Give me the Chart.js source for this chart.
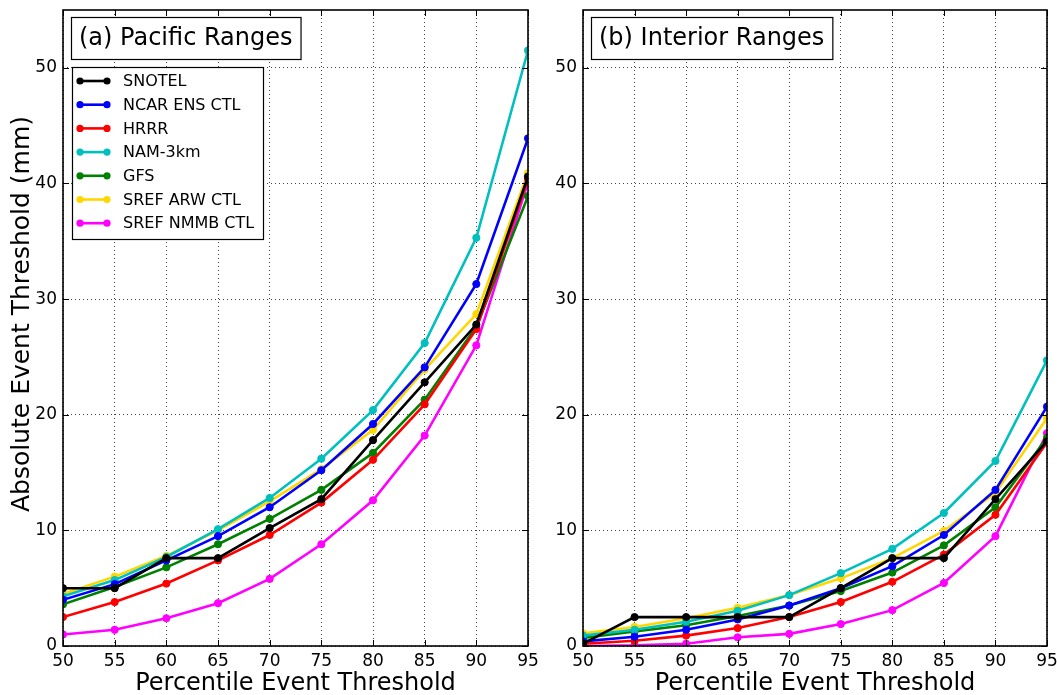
<!DOCTYPE html>
<html><head><meta charset="utf-8">
<script src="https://cdn.jsdelivr.net/npm/chart.js@4/dist/chart.umd.min.js"></script>
<style>
html,body{margin:0;padding:0;background:#fff;width:1057px;height:695px;overflow:hidden}
canvas{position:absolute;top:0}
#c1{left:0}#c2{left:540px}
</style></head>
<body>
<canvas id="c1" width="540" height="695"></canvas>
<canvas id="c2" width="517" height="695"></canvas>
<script>
const percentiles = [50, 55, 60, 65, 70, 75, 80, 85, 90, 95];
const seriesNames = ['SNOTEL', 'NCAR ENS CTL', 'HRRR', 'NAM-3km', 'GFS', 'SREF ARW CTL', 'SREF NMMB CTL'];
const seriesColors = ['#000000', '#0000ff', '#ff0000', '#00bfbf', '#008000', '#ffd700', '#ff00ff'];
const yTickValues = [0, 10, 20, 30, 40, 50];

// (a) Pacific Ranges
const pacSNOTEL = [5.0, 5.0, 7.6, 7.6, 10.2, 12.7, 17.8, 22.8, 27.8, 40.6];
const pacNCAR   = [4.0, 5.35, 7.4, 9.5, 12.0, 15.2, 19.2, 24.1, 31.3, 43.9];
const pacHRRR   = [2.5, 3.8, 5.4, 7.4, 9.6, 12.4, 16.1, 20.9, 27.4, 40.4];
const pacNAM    = [4.3, 5.7, 7.7, 10.1, 12.8, 16.2, 20.4, 26.2, 35.3, 51.5];
const pacGFS    = [3.6, 5.1, 6.8, 8.8, 11.0, 13.5, 16.7, 21.3, 27.6, 38.9];
const pacARW    = [4.5, 6.0, 7.8, 10.0, 12.5, 15.3, 18.7, 23.9, 28.7, 40.9];
const pacNMMB   = [1.0, 1.4, 2.4, 3.7, 5.8, 8.8, 12.6, 18.2, 26.0, 40.1];

// (b) Interior Ranges
const intSNOTEL = [0.2, 2.5, 2.5, 2.5, 2.5, 5.0, 7.6, 7.6, 12.7, 17.7];
const intNCAR   = [0.4, 0.8, 1.4, 2.3, 3.5, 5.0, 6.9, 9.6, 13.5, 20.7];
const intHRRR   = [0.2, 0.45, 0.9, 1.55, 2.5, 3.8, 5.55, 7.9, 11.35, 17.6];
const intNAM    = [0.9, 1.4, 2.1, 3.05, 4.4, 6.3, 8.4, 11.5, 16.0, 24.7];
const intGFS    = [0.7, 1.25, 1.8, 2.6, 3.5, 4.75, 6.35, 8.7, 12.0, 18.0];
const intARW    = [1.1, 1.65, 2.4, 3.3, 4.4, 5.85, 7.6, 9.95, 13.25, 19.7];
const intNMMB   = [0.0, 0.05, 0.2, 0.75, 1.05, 1.9, 3.1, 5.45, 9.5, 18.4];

const FONT = "'DejaVu Sans', 'Liberation Sans', sans-serif";
const Y_TITLE = 'Absolute Event Threshold (mm)';

function makeDatasets(seriesList) {
  return seriesList.map((vals, i) => ({
    label: seriesNames[i],
    data: percentiles.map((p, j) => ({x: p, y: vals[j]})),
    borderColor: seriesColors[i],
    backgroundColor: seriesColors[i],
    pointBackgroundColor: seriesColors[i],
    pointBorderColor: seriesColors[i],
    borderWidth: 2.6,
    pointRadius: 3.6,
    pointBorderWidth: 1,
    tension: 0,
    fill: false
  }));
}

const frameTicks = {
  id: 'frameTicks',
  afterDatasetsDraw(chart) {
    const {ctx, chartArea: a, scales: {x, y}} = chart;
    ctx.save();
    ctx.strokeStyle = '#000';
    ctx.lineWidth = 1;
    const L = 6;
    ctx.beginPath();
    x.ticks.forEach(t => {
      const px = Math.round(x.getPixelForValue(t.value)) + 0.5;
      ctx.moveTo(px, a.bottom); ctx.lineTo(px, a.bottom - L);
      ctx.moveTo(px, a.top); ctx.lineTo(px, a.top + L);
    });
    y.ticks.forEach(t => {
      const py = Math.round(y.getPixelForValue(t.value)) + 0.5;
      ctx.moveTo(a.left, py); ctx.lineTo(a.left + L, py);
      ctx.moveTo(a.right, py); ctx.lineTo(a.right - L, py);
    });
    ctx.stroke();
    ctx.lineWidth = 1.6;
    ctx.strokeRect(a.left, a.top, a.right - a.left, a.bottom - a.top);
    ctx.restore();
  }
};

const panelDecor = {
  id: 'panelDecor',
  afterDraw(chart, args, opts) {
    const {ctx, chartArea: a} = chart;
    ctx.save();
    // panel title box
    ctx.font = '24px ' + FONT;
    const tw = ctx.measureText(opts.title).width;
    const bx = a.left + 8, by = a.top + 7, bw = tw + 16, bh = 42;
    ctx.fillStyle = '#fff';
    ctx.fillRect(bx, by, bw, bh);
    ctx.strokeStyle = '#000';
    ctx.lineWidth = 1.2;
    ctx.strokeRect(bx + 0.5, by + 0.5, bw, bh);
    ctx.fillStyle = '#000';
    ctx.textBaseline = 'middle';
    ctx.textAlign = 'left';
    ctx.fillText(opts.title, bx + 8, by + bh / 2 + 1);
    // y axis title
    if (opts.yTitle) {
      ctx.save();
      ctx.font = '25px ' + FONT;
      ctx.translate(22, 314);
      ctx.rotate(-Math.PI / 2);
      ctx.textAlign = 'center';
      ctx.textBaseline = 'middle';
      ctx.fillText(opts.yTitle, 0, 0);
      ctx.restore();
    }
    // legend
    if (opts.legend) {
      const lx = a.left + 9, ly = a.top + 57, lw = 191, lh = 172;
      ctx.fillStyle = '#fff';
      ctx.fillRect(lx, ly, lw, lh);
      ctx.lineWidth = 1.2;
      ctx.strokeStyle = '#000';
      ctx.strokeRect(lx + 0.5, ly + 0.5, lw, lh);
      ctx.font = '16px ' + FONT;
      chart.data.datasets.forEach((ds, i) => {
        const yy = ly + 14 + i * 23.7;
        ctx.strokeStyle = ds.borderColor;
        ctx.fillStyle = ds.borderColor;
        ctx.lineWidth = 2.6;
        ctx.beginPath();
        ctx.moveTo(lx + 8, yy); ctx.lineTo(lx + 35, yy);
        ctx.stroke();
        [lx + 8, lx + 35].forEach(cx => {
          ctx.beginPath(); ctx.arc(cx, yy, 3.6, 0, Math.PI * 2); ctx.fill();
        });
        ctx.fillStyle = '#000';
        ctx.fillText(ds.label, lx + 51, yy + 1);
      });
    }
    ctx.restore();
  }
};

function makeOptions(yTitle, yWidth, title, legend, padRight) {
  return {
    responsive: false,
    animation: false,
    layout: {padding: {top: 10, right: padRight, left: 0, bottom: 0}},
    plugins: {
      legend: {display: false},
      tooltip: {enabled: false},
      panelDecor: {title: title, legend: legend, yTitle: yTitle}
    },
    scales: {
      x: {
        type: 'linear', min: 50, max: 95,
        ticks: {stepSize: 5, color: '#000', font: {family: FONT, size: 17}, padding: 5, maxRotation: 0},
        grid: {color: '#444', lineWidth: 1, drawTicks: false},
        border: {display: false, dash: [1, 3]},
        title: {display: true, text: 'Percentile Event Threshold', color: '#000',
                font: {family: FONT, size: 24, lineHeight: 1}, padding: {top: 0, bottom: -1}},
        afterFit(s) { s.height = 49; s.paddingLeft = 0; s.paddingRight = 0; }
      },
      y: {
        type: 'linear', min: 0, max: 55,
        afterBuildTicks(s) { s.ticks = yTickValues.map(v => ({value: v})); },
        ticks: {color: '#000', font: {family: FONT, size: 17}, padding: 6},
        grid: {color: '#444', lineWidth: 1, drawTicks: false},
        border: {display: false, dash: [1, 3]},
        title: {display: false},
        afterFit(s) { s.width = yWidth; s.paddingTop = 0; s.paddingBottom = 0; }
      }
    }
  };
}

new Chart(document.getElementById('c1'), {
  type: 'line',
  data: {datasets: makeDatasets([pacSNOTEL, pacNCAR, pacHRRR, pacNAM, pacGFS, pacARW, pacNMMB])},
  options: makeOptions(Y_TITLE, 63, '(a) Pacific Ranges', true, 12),
  plugins: [frameTicks, panelDecor]
});

new Chart(document.getElementById('c2'), {
  type: 'line',
  data: {datasets: makeDatasets([intSNOTEL, intNCAR, intHRRR, intNAM, intGFS, intARW, intNMMB])},
  options: makeOptions(null, 43, '(b) Interior Ranges', false, 10),
  plugins: [frameTicks, panelDecor]
});
</script>
</body></html>
